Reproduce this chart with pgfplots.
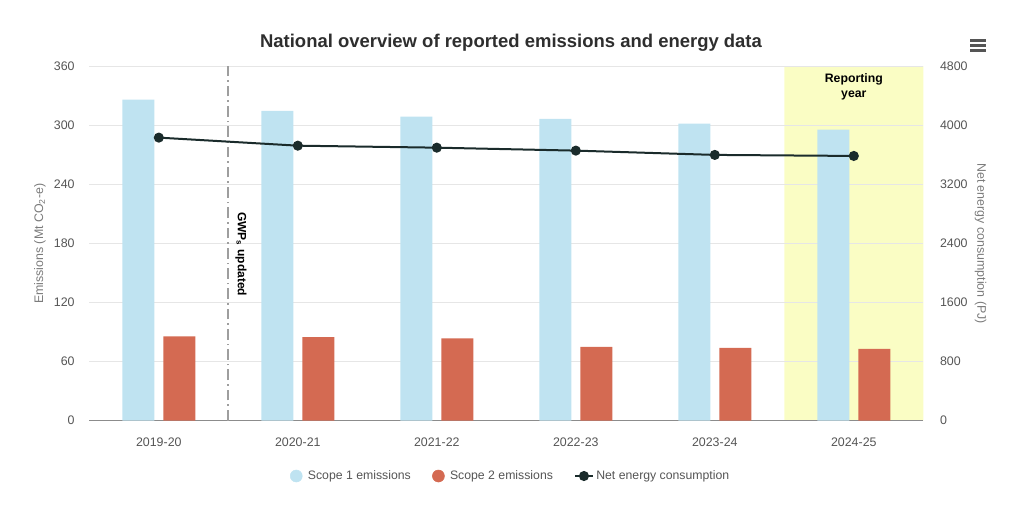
\documentclass[border=0pt]{standalone}
\usepackage{pgfplots}
\usepackage{pgfplotstable}
\pgfplotsset{compat=1.18}
\usepackage{fontspec}
\setmainfont{Liberation Sans}

\definecolor{scopeone}{HTML}{BFE3F1}
\definecolor{scopetwo}{HTML}{D46A52}
\definecolor{energy}{HTML}{1A2B2B}
\definecolor{band}{HTML}{FAFDC4}
\definecolor{gridgray}{HTML}{E6E6E6}
\definecolor{axisgray}{HTML}{8C8C8C}
\definecolor{ticktext}{HTML}{555555}
\definecolor{labeltext}{HTML}{7A7A7A}
\definecolor{titletext}{HTML}{2E2E2E}
\definecolor{markgray}{HTML}{9E9E9E}

% Emissions (Mt CO2-e) and net energy consumption (PJ) by reporting year
\pgfplotstableread{
idx scopeone scopetwo energy
0   325.9    85.7     3831
1   314.4    84.7     3722
2   308.6    83.6     3695
3   306.3    74.8     3655
4   301.5    73.8     3597
5   295.4    72.8     3583
}\datatable

% shaded reporting-year column
\pgfplotstableread{
x    y
4.5  0
4.5  360
5.5  360
5.5  0
}\bandtable

\pgfplotsset{
  common/.style={
    at={(66.98pt,76.73pt)}, anchor=south west,
    scale only axis, width=625.5pt, height=266pt,
    xmin=-0.5, xmax=5.5, ymin=0,
    major tick length=0pt,
    /pgf/number format/assume math mode=true,
    /pgf/number format/1000 sep={},
    tick label style={font=\fontsize{9.3}{11}\selectfont, text=ticktext},
  },
}

\begin{document}
\begin{tikzpicture}
% page frame
\path (0pt,0pt) rectangle (768pt,392.25pt);

% left axis: emissions bars
\begin{axis}[
  common,
  set layers,
  ymax=360, ytick={0,60,...,360},
  xtick={0,...,5},
  xticklabels={2019-20,2020-21,2021-22,2022-23,2023-24,2024-25},
  axis x line*=bottom, axis y line*=left,
  x axis line style={draw=axisgray, line width=0.9pt, -},
  y axis line style={draw=none},
  ymajorgrids, grid style={draw=gridgray, line width=0.75pt},
  yticklabel style={xshift=-7.5pt},
  xticklabel style={yshift=-9.5pt},
  clip=false,
]
\addplot[fill=band, draw=none, forget plot, on layer=axis background]
  table[x=x, y=y] {\bandtable} \closedcycle;
\addplot[ybar, bar width=24pt, bar shift=-15.4pt, fill=scopeone, draw=none]
  table[x=idx, y=scopeone] {\datatable};
\addplot[ybar, bar width=24pt, bar shift=15.4pt, fill=scopetwo, draw=none]
  table[x=idx, y=scopetwo] {\datatable};
\draw[markgray, line width=1.4pt, dash pattern=on 8pt off 3pt on 1.2pt off 3pt]
  (axis cs:0.5,0) -- (axis cs:0.5,360);
\node[rotate=-90, font=\bfseries\fontsize{9}{11}\selectfont, text=black]
  at (axis cs:0.591,169) {GWP\textsubscript{s} updated};
\node[font=\bfseries\fontsize{9.2}{11.25}\selectfont, align=center, text=black]
  at (axis cs:5,339) {Reporting\\year};
\end{axis}

% right axis: net energy consumption
\begin{axis}[
  common,
  ymax=4800, ytick={0,800,...,4800},
  axis y line*=right, axis x line=none,
  y axis line style={draw=none},
  yticklabel style={xshift=9pt, anchor=west},
  legend style={
    at={(0.5056,-0.156)}, anchor=center, draw=none, fill=none,
    legend columns=3,
    font=\fontsize{9.2}{11}\selectfont, text=ticktext,
    /tikz/every even column/.append style={column sep=14pt},
    legend cell align=left,
  },
]
\addlegendimage{legend image code/.code={
  \fill[scopeone] (0pt,0pt) circle (4.5pt);
  \path (6.5pt,0pt);}}
\addlegendentry{Scope 1 emissions}
\addlegendimage{legend image code/.code={
  \fill[scopetwo] (0pt,0pt) circle (4.5pt);
  \path (6.5pt,0pt);}}
\addlegendentry{Scope 2 emissions}
\addplot[energy, line width=1.5pt, mark=*, mark size=3pt,
  mark options={fill=energy, draw=energy},
  legend image code/.code={
    \draw[energy, line width=1.5pt] (0pt,0pt) -- (13pt,0pt);
    \fill[energy] (6.5pt,0pt) circle (3pt);}]
  table[x=idx, y=energy] {\datatable};
\addlegendentry{Net energy consumption}
\end{axis}

% title, axis titles and menu icon
\node[font=\bfseries\fontsize{13.85}{16}\selectfont, text=titletext] at (383.25pt,360.4pt)
  {National overview of reported emissions and energy data};
\node[rotate=90, font=\fontsize{9.3}{11}\selectfont, text=labeltext] at (30pt,209.5pt)
  {Emissions (Mt CO\textsubscript{2}-e)};
\node[rotate=-90, font=\fontsize{9.3}{11}\selectfont, text=labeltext] at (735.5pt,209.6pt)
  {Net energy consumption (PJ)};
\foreach \yy in {362pt,358.25pt,354.5pt}
  \draw[ticktext, line width=1.9pt] (727.5pt,\yy) -- (739.5pt,\yy);
\end{tikzpicture}
\end{document}
